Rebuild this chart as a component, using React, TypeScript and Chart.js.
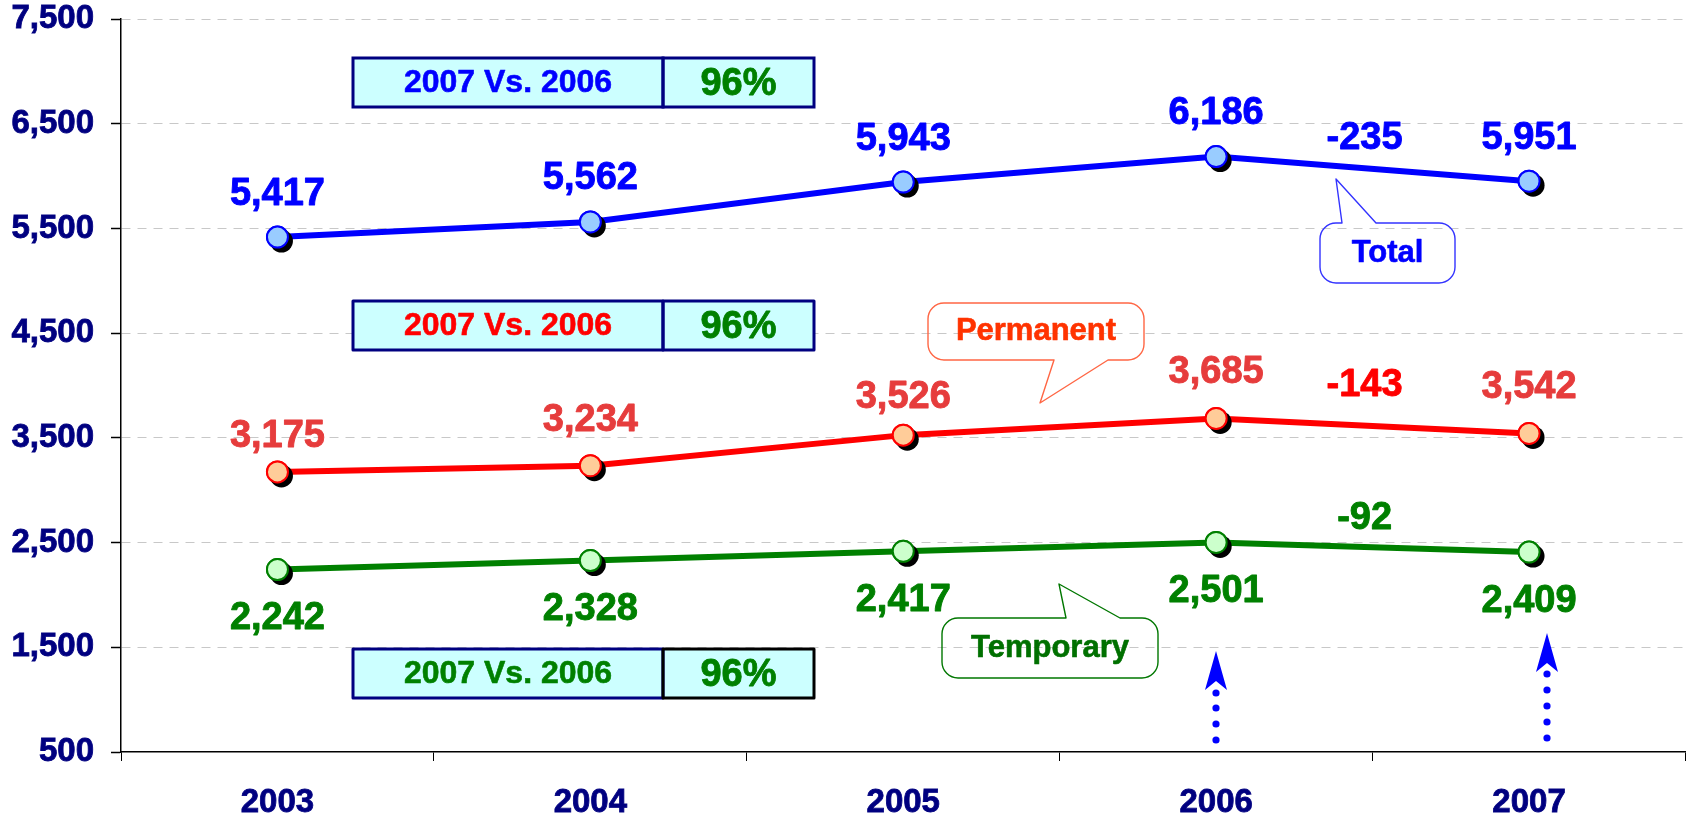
import React, { useEffect, useRef } from 'react';
import { Chart, registerables } from 'chart.js';

Chart.register(...registerables);

const years = ['2003', '2004', '2005', '2006', '2007'];
const totalValues = [5417, 5562, 5943, 6186, 5951];
const permanentValues = [3175, 3234, 3526, 3685, 3542];
const temporaryValues = [2242, 2328, 2417, 2501, 2409];
const yTickValues = [500, 1500, 2500, 3500, 4500, 5500, 6500, 7500];

// label offsets (style only)
const totalLabelDy = [-43, -43, -43, -43, -43];
const permanentLabelDy = [-35, -45, -38, -46, -46];
const temporaryLabelDy = [49, 49, 49, 49, 49];

const FONT = "'Liberation Sans', Arial, Helvetica, sans-serif";
const NAVY = '#000080';

const seriesDefs = [
  { name: 'Total', values: totalValues, line: '#0000FF', fill: '#99CCFF', text: '#0000FF', diffText: '#0000FF', dy: totalLabelDy, diffDy: -30, boxText: '#0000FF', boxTop: 58, rightBorder: NAVY },
  { name: 'Permanent', values: permanentValues, line: '#FF0000', fill: '#FFCC99', text: '#E63C3C', diffText: '#FF0000', dy: permanentLabelDy, diffDy: -40, boxText: '#FF0000', boxTop: 301, rightBorder: NAVY },
  { name: 'Temporary', values: temporaryValues, line: '#008000', fill: '#CCFFCC', text: '#008000', diffText: '#008000', dy: temporaryLabelDy, diffDy: -29, boxText: '#008000', boxTop: 649, rightBorder: '#000000' },
];

type Tail = { side: 'top' | 'bottom'; a: number; b: number; tx: number; ty: number };

function calloutPath(ctx: CanvasRenderingContext2D, x0: number, y0: number, x1: number, y1: number, r: number, t: Tail) {
  ctx.beginPath();
  ctx.moveTo(x0 + r, y0);
  if (t.side === 'top') {
    ctx.lineTo(t.a, y0);
    ctx.lineTo(t.tx, t.ty);
    ctx.lineTo(t.b, y0);
  }
  ctx.lineTo(x1 - r, y0);
  ctx.arcTo(x1, y0, x1, y0 + r, r);
  ctx.lineTo(x1, y1 - r);
  ctx.arcTo(x1, y1, x1 - r, y1, r);
  if (t.side === 'bottom') {
    ctx.lineTo(t.b, y1);
    ctx.lineTo(t.tx, t.ty);
    ctx.lineTo(t.a, y1);
  }
  ctx.lineTo(x0 + r, y1);
  ctx.arcTo(x0, y1, x0, y1 - r, r);
  ctx.lineTo(x0, y0 + r);
  ctx.arcTo(x0, y0, x0 + r, y0, r);
  ctx.closePath();
}

const callouts = [
  { text: 'Total', x0: 1320, y0: 223, x1: 1455, y1: 283, tail: { side: 'top', a: 1342, b: 1376, tx: 1336, ty: 179 } as Tail, border: '#3333FF', color: '#0000FF' },
  { text: 'Permanent', x0: 928, y0: 303, x1: 1144, y1: 360, tail: { side: 'bottom', a: 1054, b: 1108, tx: 1040, ty: 403 } as Tail, border: '#FF6644', color: '#FF3300' },
  { text: 'Temporary', x0: 942, y0: 618, x1: 1158, y1: 678, tail: { side: 'top', a: 1066, b: 1120, tx: 1059, ty: 584 } as Tail, border: '#007700', color: '#007000' },
];

const arrows = [
  { x: 1216, tip: 651, base: 690, dots: [693, 708, 724, 740] },
  { x: 1547, tip: 633, base: 672, dots: [674, 690, 706, 722, 738] },
];

function boldText(ctx: CanvasRenderingContext2D, text: string, x: number, y: number, color: string, stroke = 0.9) {
  ctx.fillStyle = color;
  ctx.strokeStyle = color;
  ctx.lineWidth = stroke;
  ctx.lineJoin = 'round';
  ctx.strokeText(text, x, y);
  ctx.fillText(text, x, y);
}

const decorPlugin = {
  id: 'decor',
  afterDatasetsDraw(chart: any) {
    const ctx: CanvasRenderingContext2D = chart.ctx;
    chart.data.datasets.forEach((_: any, i: number) => {
      const meta = chart.getDatasetMeta(i);
      meta.data.forEach((el: any) => {
        ctx.save();
        ctx.fillStyle = '#000000';
        ctx.beginPath();
        ctx.arc(el.x + 4, el.y + 4, 11.5, 0, Math.PI * 2);
        ctx.fill();
        ctx.restore();
        el.draw(ctx, chart.chartArea);
      });
    });
    ctx.save();
    ctx.textAlign = 'center';
    ctx.textBaseline = 'middle';
    ctx.font = `bold 38px ${FONT}`;
    seriesDefs.forEach((s, i) => {
      const meta = chart.getDatasetMeta(i);
      meta.data.forEach((el: any, j: number) => {
        boldText(ctx, s.values[j].toLocaleString('en-US'), el.x, el.y + s.dy[j], s.text);
      });
      const n = s.values.length;
      const p = meta.data[n - 2];
      const q = meta.data[n - 1];
      const diff = s.values[n - 1] - s.values[n - 2];
      boldText(ctx, String(diff), (p.x + q.x) / 2 - 8, (p.y + q.y) / 2 + s.diffDy, s.diffText);
    });
    ctx.restore();
  },
  afterDraw(chart: any) {
    const ctx: CanvasRenderingContext2D = chart.ctx;
    ctx.save();
    const L = 353, D = 663, R = 814, H = 49;
    seriesDefs.forEach((s) => {
      const top = s.boxTop;
      ctx.fillStyle = '#CCFFFF';
      ctx.fillRect(L, top, R - L, H);
      ctx.lineWidth = 3;
      ctx.strokeStyle = NAVY;
      ctx.strokeRect(L, top, D - L, H);
      ctx.strokeStyle = s.rightBorder;
      ctx.strokeRect(D, top, R - D, H);
      const n = s.values.length;
      ctx.textAlign = 'center';
      ctx.textBaseline = 'middle';
      ctx.font = `bold 32px ${FONT}`;
      boldText(ctx, `${years[n - 1]} Vs. ${years[n - 2]}`, (L + D) / 2, top + H / 2 + 1, s.boxText, 0.6);
      ctx.font = `bold 38px ${FONT}`;
      boldText(ctx, `${Math.round((s.values[n - 1] / s.values[n - 2]) * 100)}%`, (D + R) / 2, top + H / 2 + 2, '#008000', 0.8);
    });
    callouts.forEach((c) => {
      calloutPath(ctx, c.x0, c.y0, c.x1, c.y1, 16, c.tail);
      ctx.lineWidth = 1.4;
      ctx.strokeStyle = c.border;
      ctx.stroke();
      ctx.font = `bold 31px ${FONT}`;
      ctx.textAlign = 'center';
      ctx.textBaseline = 'middle';
      boldText(ctx, c.text, (c.x0 + c.x1) / 2, (c.y0 + c.y1) / 2, c.color, 0.6);
    });
    arrows.forEach((a) => {
      ctx.fillStyle = '#0000FF';
      ctx.beginPath();
      ctx.moveTo(a.x, a.tip);
      ctx.lineTo(a.x + 11, a.base);
      ctx.lineTo(a.x, a.base - 9);
      ctx.lineTo(a.x - 11, a.base);
      ctx.closePath();
      ctx.fill();
      a.dots.forEach((y) => {
        ctx.beginPath();
        ctx.arc(a.x, y, 3.6, 0, Math.PI * 2);
        ctx.fill();
      });
    });
    ctx.restore();
  },
};

export default function App() {
  const ref = useRef<HTMLCanvasElement>(null);
  useEffect(() => {
    if (!ref.current) return;
    const chart = new Chart(ref.current, {
      type: 'line',
      data: {
        labels: years,
        datasets: seriesDefs.map((s) => ({
          label: s.name,
          data: s.values,
          borderColor: s.line,
          borderWidth: 6,
          backgroundColor: s.fill,
          pointBackgroundColor: s.fill,
          pointBorderColor: s.line,
          pointBorderWidth: 2,
          pointRadius: 10.5,
          tension: 0,
          fill: false,
        })),
      },
      options: {
        responsive: false,
        maintainAspectRatio: false,
        animation: false,
        layout: { padding: { left: 0, top: 19, right: 3, bottom: 0 } },
        plugins: { legend: { display: false }, tooltip: { enabled: false } },
        scales: {
          x: {
            type: 'category',
            offset: true,
            grid: { offset: true, drawOnChartArea: false, drawTicks: true, tickLength: 9, tickColor: '#000000', tickWidth: 1 },
            border: { display: true, color: '#000000', width: 1.5 },
            ticks: { color: NAVY, textStrokeColor: NAVY, textStrokeWidth: 0.8, font: { family: FONT, size: 33, weight: 'bold' }, padding: 22, maxRotation: 0, autoSkip: false },
            afterFit: (s: any) => { s.height = 61; s.paddingLeft = 0; s.paddingRight = 0; },
          },
          y: {
            min: 500,
            max: 7500,
            afterBuildTicks: (s: any) => { s.ticks = yTickValues.map((v) => ({ value: v })); },
            grid: {
              color: (c: any) => (c.tick && c.tick.value === 500 ? 'rgba(0,0,0,0)' : '#C8C8C8'),
              lineWidth: 1,
              tickLength: 10,
              tickColor: '#000000',
              tickWidth: 1.5,
            },
            border: { display: true, color: '#000000', width: 1.5, dash: [9, 7] },
            ticks: {
              color: NAVY,
              textStrokeColor: NAVY,
              textStrokeWidth: 0.8,
              font: { family: FONT, size: 33, weight: 'bold' },
              padding: 17,
              callback: (v: any) => Number(v).toLocaleString('en-US'),
            },
            afterFit: (s: any) => { s.width = 121; s.paddingTop = 0; s.paddingBottom = 0; },
          },
        },
      } as any,
      plugins: [decorPlugin],
    });
    return () => chart.destroy();
  }, []);
  return (
    <div style={{ position: 'absolute', left: 0, top: 0, width: 1698, height: 813, background: '#ffffff' }}>
      <canvas ref={ref} width={1698} height={813} style={{ display: 'block', width: 1698, height: 813 }} />
    </div>
  );
}
